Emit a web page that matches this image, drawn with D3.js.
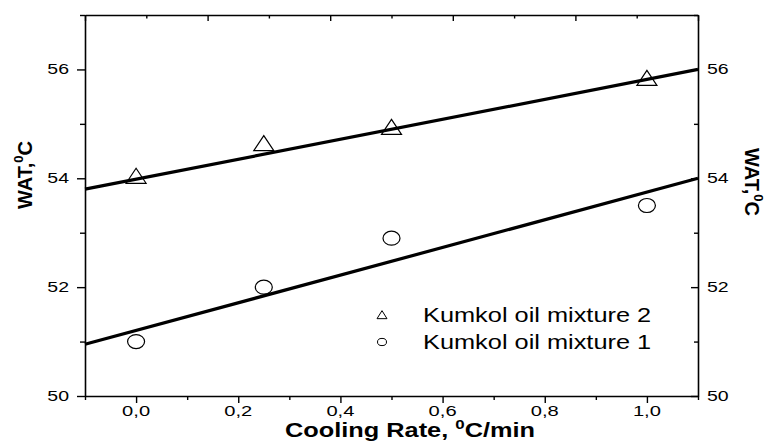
<!DOCTYPE html>
<html><head><meta charset="utf-8">
<script src="https://cdn.jsdelivr.net/npm/d3@7"></script>
<style>
body{margin:0;background:#fff}
text{font-family:"Liberation Sans",Arial,sans-serif;fill:#000}
</style>
</head><body>
<svg id="c" width="765" height="441"></svg>
<script>
// ---- data ----
const coolingRate = [0.0, 0.25, 0.5, 1.0];
const watMixture2 = [54.0, 54.6, 54.9, 55.8];
const watMixture1 = [51.0, 52.0, 52.9, 53.5];
const fitX = [-0.1, 1.1];
const fitMixture2 = [53.8, 56.0];
const fitMixture1 = [50.95, 54.0];
const xTickValues = [-0.1, 0.0, 0.1, 0.2, 0.3, 0.4, 0.5, 0.6, 0.7, 0.8, 0.9, 1.0, 1.1];
const xTickLabels = ["0,0", "0,2", "0,4", "0,6", "0,8", "1,0"];
const xLabelValues = [0.0, 0.2, 0.4, 0.6, 0.8, 1.0];
const yTickValues = [50, 51, 52, 53, 54, 55, 56, 57];
const yLabelValues = [50, 52, 54, 56];
const topTickValues = [0, 1, 2, 3, 4, 5, 6, 7, 8, 9, 10];
const seriesNames = ["Kumkol oil mixture 2", "Kumkol oil mixture 1"];

const svg = d3.select("#c");
const L = 85, R = 698, T0 = 15, B = 396;
const SX = 1.3; // horizontal text stretch of the reference
const X = d3.scaleLinear().domain([-0.1, 1.1]).range([L, R]);
const Y = d3.scaleLinear().domain([50, 57]).range([B, T0]);
const Top = d3.scaleLinear().domain([0, 10]).range([L, R]);

function txt(g, x, y, size, anchor, weight, rot, sx) {
  const s = sx === undefined ? SX : sx;
  return g.append("text")
    .attr("transform", `translate(${x},${y}) scale(${s},1)` + (rot ? ` rotate(${rot})` : ""))
    .attr("text-anchor", anchor || "start")
    .attr("font-size", size)
    .attr("font-weight", weight || "normal");
}

function styleAxis(g, isMajor, majorLen, minorLen, attr) {
  g.select(".domain").attr("stroke", "#000").attr("stroke-width", 1.6);
  g.selectAll(".tick line").attr("stroke", "#000").attr("stroke-width", 1.4)
    .attr(attr, d => isMajor(d) ? majorLen : minorLen);
  g.selectAll(".tick text").remove();
}

const xMajor = d => { const k = Math.round(d * 10); return k >= 0 && k <= 10 && k % 2 === 0; };
const yMajor = d => d % 2 === 0;
const tMajor = d => d % 2 === 0;

// bottom axis
const gb = svg.append("g").attr("transform", `translate(0,${B})`)
  .call(d3.axisBottom(X).tickValues(xTickValues).tickSizeOuter(0).tickFormat(""));
styleAxis(gb, xMajor, 7, 4, "y2");
// top axis (inward ticks)
const gt = svg.append("g").attr("transform", `translate(0,${T0})`)
  .call(d3.axisTop(Top).tickValues(topTickValues).tickSizeOuter(0).tickFormat(""));
styleAxis(gt, tMajor, 6, 3.5, "y2");
// left axis
const gl = svg.append("g").attr("transform", `translate(${L},0)`)
  .call(d3.axisLeft(Y).tickValues(yTickValues).tickSizeOuter(0).tickFormat(""));
styleAxis(gl, yMajor, -8, -5, "x2");
// right axis (inward ticks)
const gr = svg.append("g").attr("transform", `translate(${R},0)`)
  .call(d3.axisRight(Y).tickValues(yTickValues).tickSizeOuter(0).tickFormat(""));
styleAxis(gr, yMajor, -7, -4, "x2");

// tick labels
const lab = svg.append("g");
xLabelValues.forEach((v, i) => txt(lab, X(v), 416, 15.5, "middle").text(xTickLabels[i]));
yLabelValues.forEach(v => {
  txt(lab, L - 16, Y(v) + 5, 15, "end").text(String(v));
  txt(lab, R + 9, Y(v) + 5, 15, "start").text(String(v));
});

// axis titles
const xt = txt(lab, 410, 437, 19.5, "middle", "bold");
xt.append("tspan").text("Cooling Rate, ");
xt.append("tspan").attr("font-size", 13).attr("dy", -8).text("0");
xt.append("tspan").attr("dy", 8).text("C/min");

const ylt = txt(lab, 32, 175, 20, "middle", "bold", -90, 1);
ylt.append("tspan").text("WAT,");
ylt.append("tspan").attr("font-size", 13).attr("dy", -9).text("0");
ylt.append("tspan").attr("dy", 9).text("C");

const yrt = txt(lab, 745, 182, 20, "middle", "bold", 90, 1);
yrt.append("tspan").text("WAT,");
yrt.append("tspan").attr("font-size", 13).attr("dy", -9).text("0");
yrt.append("tspan").attr("dy", 9).text("C");

// fit lines
const line = d3.line().x(d => X(d[0])).y(d => Y(d[1]));
svg.append("path").datum(fitX.map((x, i) => [x, fitMixture2[i]]))
  .attr("d", line).attr("fill", "none").attr("stroke", "#000").attr("stroke-width", 3.2);
svg.append("path").datum(fitX.map((x, i) => [x, fitMixture1[i]]))
  .attr("d", line).attr("fill", "none").attr("stroke", "#000").attr("stroke-width", 3.2);

// markers
function triPath(cx, cy, w, h) {
  return `M${cx},${cy - h * 2 / 3}L${cx + w / 2},${cy + h / 3}L${cx - w / 2},${cy + h / 3}Z`;
}
svg.append("g").selectAll("path").data(coolingRate.map((x, i) => [x, watMixture2[i]]))
  .join("path").attr("d", d => triPath(X(d[0]), Y(d[1]), 20, 15))
  .attr("fill", "none").attr("stroke", "#000").attr("stroke-width", 1.2);
svg.append("g").selectAll("ellipse").data(coolingRate.map((x, i) => [x, watMixture1[i]]))
  .join("ellipse").attr("cx", d => X(d[0])).attr("cy", d => Y(d[1]))
  .attr("rx", 8.5).attr("ry", 7).attr("fill", "none").attr("stroke", "#000").attr("stroke-width", 1.2);

// legend
const lg = svg.append("g");
lg.append("path").attr("d", triPath(382, 316, 10, 8)).attr("fill", "none").attr("stroke", "#000").attr("stroke-width", 1);
lg.append("ellipse").attr("cx", 382).attr("cy", 342).attr("rx", 4.5).attr("ry", 3.6)
  .attr("fill", "none").attr("stroke", "#000").attr("stroke-width", 1);
txt(lg, 423, 322, 19.5, "start").text(seriesNames[0]);
txt(lg, 423, 349, 19.5, "start").text(seriesNames[1]);
</script>
</body></html>
